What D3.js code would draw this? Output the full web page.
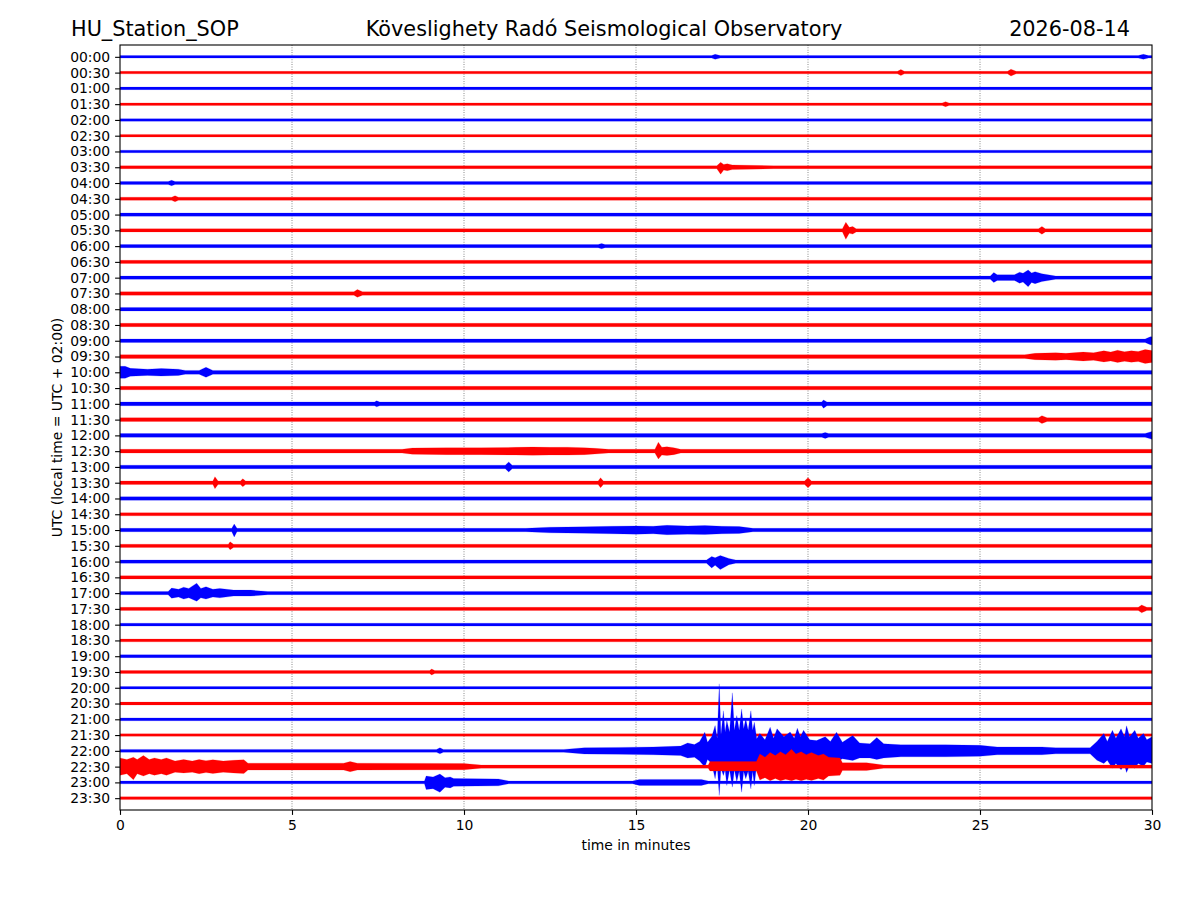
<!DOCTYPE html>
<html>
<head>
<meta charset="utf-8">
<script src="https://cdn.jsdelivr.net/npm/d3@7"></script>
<style>
  body { margin: 0; background: #fff; }
  svg { display: block; font-family: "DejaVu Sans", sans-serif; }
</style>
</head>
<body>
<div id="chart"></div>
<script>
// one trace every 30 minutes, 30 minutes long
var timeLabels = ["00:00","00:30","01:00","01:30","02:00","02:30","03:00","03:30",
  "04:00","04:30","05:00","05:30","06:00","06:30","07:00","07:30",
  "08:00","08:30","09:00","09:30","10:00","10:30","11:00","11:30",
  "12:00","12:30","13:00","13:30","14:00","14:30","15:00","15:30",
  "16:00","16:30","17:00","17:30","18:00","18:30","19:00","19:30",
  "20:00","20:30","21:00","21:30","22:00","22:30","23:00","23:30"];

var minuteTicks = [0, 5, 10, 15, 20, 25, 30];
var traceColors = ["#0000ff", "#ff0000"];

// background noise half amplitude, percent of trace spacing
var noiseLevel = [8,8,8,8,8,8,8,9, 10,10,10,10,10,10,10,11,
  11,11,11,12,12,11,12,12, 12,12,11,11,11,10,11,10,
  10,10,10,10,9,9,9,9, 8,9,9,8,9,10,9,9];

// bursts: [trace label, [[minute, up, down], ...]]  (0 = back to noise)
var bursts = [
  ["00:00", [[17.2,0,0],[17.3,16,16],[17.45,0,0],[29.6,0,0],[29.75,16,16],[29.9,0,0]]],
  ["00:30", [[22.6,0,0],[22.7,19,19],[22.8,0,0],[25.8,0,0],[25.9,22,22],[26.05,0,0]]],
  ["01:30", [[23.9,0,0],[24.0,16,16],[24.1,0,0]]],
  ["03:30", [[17.35,0,0],[17.46,32,44],[17.55,18,18],[17.65,22,22],[17.8,15,15],[19.0,0,0]]],
  ["04:00", [[1.4,0,0],[1.5,17,17],[1.6,0,0]]],
  ["04:30", [[1.5,0,0],[1.6,19,19],[1.7,0,0]]],
  ["05:30", [[21.0,0,0],[21.1,51,57],[21.2,19,19],[21.3,24,24],[21.4,0,0],[26.7,0,0],[26.8,25,25],[26.9,0,0]]],
  ["06:00", [[13.9,0,0],[14.0,17,17],[14.1,0,0]]],
  ["07:00", [[25.3,0,0],[25.4,32,30],[25.5,18,18],[26.0,18,18],[26.15,35,35],[26.25,28,28],
             [26.4,49,57],[26.5,30,30],[26.6,38,38],[26.8,25,25],[27.2,0,0]]],
  ["07:30", [[6.8,0,0],[6.9,25,25],[7.05,0,0]]],
  ["09:00", [[29.8,0,0],[29.95,25,25],[30,25,25]]],
  ["09:30", [[26.3,0,0],[26.6,20,20],[27.2,24,24],[27.5,20,20],[28.0,28,28],[28.3,24,24],
             [28.6,36,34],[28.8,28,28],[29.0,40,38],[29.2,30,30],[29.4,36,36],[29.6,32,32],
             [29.8,44,44],[30,38,38]]],
  ["10:00", [[0,38,38],[0.15,38,38],[0.3,25,25],[0.8,20,20],[1.2,24,24],[1.7,20,20],[1.9,0,0],
             [2.3,0,0],[2.5,32,32],[2.7,0,0]]],
  ["11:00", [[7.4,0,0],[7.46,19,19],[7.55,0,0],[20.4,0,0],[20.45,25,28],[20.55,0,0]]],
  ["11:30", [[26.7,0,0],[26.8,25,25],[26.95,0,0]]],
  ["12:00", [[20.4,0,0],[20.5,19,19],[20.6,0,0],[29.8,0,0],[30,25,25]]],
  ["12:30", [[8.2,0,0],[8.5,20,20],[9.5,22,22],[10.5,22,22],[11.5,24,24],[12.0,26,26],[12.5,24,24],
             [13.0,25,25],[13.5,22,22],[13.8,18,18],[14.2,0,0],[15.55,0,0],[15.65,57,50],
             [15.75,25,25],[15.9,28,28],[16.1,22,22],[16.3,0,0]]],
  ["13:00", [[11.2,0,0],[11.3,32,32],[11.4,0,0]]],
  ["13:30", [[2.7,0,0],[2.76,38,38],[2.85,0,0],[3.5,0,0],[3.57,25,25],[3.65,0,0],
             [13.9,0,0],[13.97,32,32],[14.05,0,0],[19.9,0,0],[20.0,32,32],[20.1,0,0]]],
  ["15:00", [[3.25,0,0],[3.32,38,44],[3.4,0,0],[11.8,0,0],[12.5,18,18],[13.5,20,20],[14.3,24,24],
             [15.0,26,26],[15.5,24,24],[15.9,30,30],[16.5,26,26],[17.0,28,28],[17.5,24,24],
             [18.0,22,22],[18.4,0,0]]],
  ["15:30", [[3.15,0,0],[3.2,25,25],[3.3,0,0]]],
  ["16:00", [[17.05,0,0],[17.2,32,40],[17.3,24,24],[17.45,38,51],[17.7,20,20],[17.9,0,0]]],
  ["17:00", [[1.4,0,0],[1.5,32,32],[1.7,25,25],[1.85,38,38],[2.0,30,30],[2.23,63,51],[2.35,30,30],
             [2.5,40,38],[2.7,25,25],[2.9,30,30],[3.3,19,19],[3.8,19,19],[4.3,0,0]]],
  ["17:30", [[29.6,0,0],[29.7,25,25],[29.85,0,0]]],
  ["19:30", [[9.0,0,0],[9.06,19,19],[9.15,0,0]]],
  ["22:00", [[9.2,0,0],[9.3,19,19],[9.4,0,0],[12.9,0,0],[13.5,20,20],[14.5,22,22],[15.5,25,25],
             [16.3,30,30],[16.5,50,45],[16.7,40,40],[16.85,60,65],[17.0,118,103],[17.08,55,55],
             [17.2,90,80],[17.3,160,177],[17.36,80,90],[17.42,425,283],[17.47,100,110],
             [17.54,254,157],[17.59,120,120],[17.64,192,220],[17.72,120,120],[17.80,368,230],
             [17.86,130,120],[17.93,224,196],[18.0,130,130],[18.07,266,262],[18.13,140,130],
             [18.19,203,177],[18.26,130,130],[18.34,254,241],[18.39,130,130],[18.44,182,220],
             [18.51,76,82],[18.6,110,80],[18.75,70,60],[18.9,150,90],[19.0,80,70],[19.1,140,90],
             [19.3,90,80],[19.48,120,90],[19.6,80,70],[19.69,144,90],[19.78,90,80],[19.87,130,90],
             [20.05,70,60],[20.25,65,60],[20.5,90,60],[20.65,60,55],[20.83,118,70],[21.0,55,50],
             [21.3,97,61],[21.5,50,45],[21.8,45,45],[22.0,84,55],[22.2,45,45],[22.7,38,38],
             [24.0,38,38],[25.0,35,35],[25.5,25,25],[26.8,25,25],[27.2,19,19],[28.2,19,19],
             [28.4,60,60],[28.6,110,80],[28.7,60,60],[28.85,130,110],[28.95,80,80],[29.1,140,120],
             [29.2,90,90],[29.26,159,137],[29.35,90,90],[29.5,130,110],[29.6,80,80],
             [29.75,110,100],[29.85,70,70],[30,90,80]]],
  ["22:30", [[0,55,55],[0.2,45,45],[0.39,60,84],[0.5,45,45],[0.68,70,60],[0.85,45,45],[1.0,55,55],
             [1.2,45,45],[1.35,55,55],[1.6,35,35],[1.85,45,40],[2.1,35,35],[2.3,45,45],[2.5,38,38],
             [2.7,44,44],[3.0,35,35],[3.3,40,40],[3.6,44,44],[3.72,22,22],[6.5,22,22],[6.69,32,32],
             [6.9,22,22],[10.0,20,20],[10.5,0,0],[17.1,0,0],[17.15,32,28],[18.5,32,28],
             [18.6,80,85],[18.75,60,70],[18.9,90,90],[19.05,70,75],[19.2,95,90],[19.35,75,80],
             [19.52,110,90],[19.65,80,80],[19.8,95,90],[19.95,75,80],[20.1,90,88],[20.3,70,75],
             [20.45,80,85],[20.6,60,60],[20.93,55,55],[21.0,25,25],[21.7,25,25],[22.2,0,0]]],
  ["23:00", [[8.85,0,0],[8.9,40,45],[9.1,35,40],[9.3,53,63],[9.45,30,30],[9.6,35,35],[9.7,25,25],
             [11.0,22,22],[11.3,0,0],[14.9,0,0],[15.1,19,19],[16.9,19,19],[17.1,0,0]]]
];

var W = 1200, H = 900;
var margin = {top: 45, right: 48, bottom: 90, left: 120},
  width = W - margin.left - margin.right,
  height = H - margin.top - margin.bottom;

var svg = d3.select("#chart")
  .append("svg")
    .attr("width", W)
    .attr("height", H);

svg.append("rect").attr("width", W).attr("height", H).attr("fill", "#fff");

var g = svg.append("g")
  .attr("transform", "translate(" + margin.left + "," + margin.top + ")");

var x = d3.scaleLinear().domain([0, 30]).range([0, width]);
var y = d3.scaleLinear().domain([-0.75, timeLabels.length - 0.25]).range([0, height]);

g.append("clipPath").attr("id", "plotclip")
  .append("rect").attr("width", width).attr("height", height);

// dotted vertical grid
g.selectAll("line.grid")
  .data(minuteTicks.filter(function(d){ return d > 0 && d < 30; }))
  .enter().append("line")
    .attr("class", "grid")
    .attr("x1", function(d){ return x(d); })
    .attr("x2", function(d){ return x(d); })
    .attr("y1", 0).attr("y2", height)
    .attr("stroke", "#000")
    .attr("stroke-width", 0.8)
    .attr("stroke-dasharray", "0.8,1.6")
    .attr("opacity", 0.7);

var burstByLabel = {};
bursts.forEach(function(b){ burstByLabel[b[0]] = b[1]; });

function envelope(i) {
  var n = noiseLevel[i];
  var pts = (burstByLabel[timeLabels[i]] || []).slice();
  if (!pts.length || pts[0][0] > 0) pts.unshift([0, 0, 0]);
  if (pts[pts.length - 1][0] < 30) pts.push([30, 0, 0]);
  return pts.map(function(p){ return [p[0], Math.max(n, p[1]), Math.max(n, p[2])]; });
}

var traces = g.append("g").attr("clip-path", "url(#plotclip)");

timeLabels.forEach(function(label, i) {
  var area = d3.area()
    .x(function(d){ return x(d[0]); })
    .y0(function(d){ return y(i + d[2] / 100); })
    .y1(function(d){ return y(i - d[1] / 100); });
  traces.append("path")
    .datum(envelope(i))
    .attr("d", area)
    .attr("fill", traceColors[i % 2])
    .attr("stroke", traceColors[i % 2])
    .attr("stroke-width", 0.3)
    .attr("stroke-opacity", 0.6);
});

// axes
var xAxis = g.append("g")
  .attr("transform", "translate(0," + height + ")")
  .call(d3.axisBottom(x).tickValues(minuteTicks).tickSize(4.9).tickPadding(4.9));

var yAxis = g.append("g")
  .call(d3.axisLeft(y).tickValues(d3.range(timeLabels.length))
    .tickFormat(function(i){ return timeLabels[i]; })
    .tickSize(4.9).tickPadding(4.9));

[xAxis, yAxis].forEach(function(a){
  a.select(".domain").remove();
  a.selectAll("text")
    .attr("font-family", "DejaVu Sans, sans-serif")
    .attr("font-size", "13.9px")
    .attr("fill", "#000");
  a.selectAll("line").attr("stroke", "#000").attr("stroke-width", 1.1);
});

g.append("rect")
  .attr("width", width).attr("height", height)
  .attr("fill", "none").attr("stroke", "#000").attr("stroke-width", 1.1);

// labels
g.append("text")
  .attr("x", width / 2).attr("y", height + 40)
  .attr("text-anchor", "middle")
  .attr("font-size", "13.9px")
  .text("time in minutes");

svg.append("text")
  .attr("transform", "translate(57," + (margin.top + height / 2) + ") rotate(-90)")
  .attr("text-anchor", "middle")
  .attr("dominant-baseline", "central")
  .attr("font-size", "13.9px")
  .text("UTC (local time = UTC + 02:00)");

var titles = [
  {t: "HU_Station_SOP", x: 71, a: "start"},
  {t: "Köveslighety Radó Seismological Observatory", x: 604, a: "middle"},
  {t: "2026-08-14", x: 1130, a: "end"}
];
svg.selectAll("text.title")
  .data(titles)
  .enter().append("text")
    .attr("class", "title")
    .attr("x", function(d){ return d.x; })
    .attr("y", 36)
    .attr("text-anchor", function(d){ return d.a; })
    .attr("font-size", "20.8px")
    .text(function(d){ return d.t; });
</script>
</body>
</html>
